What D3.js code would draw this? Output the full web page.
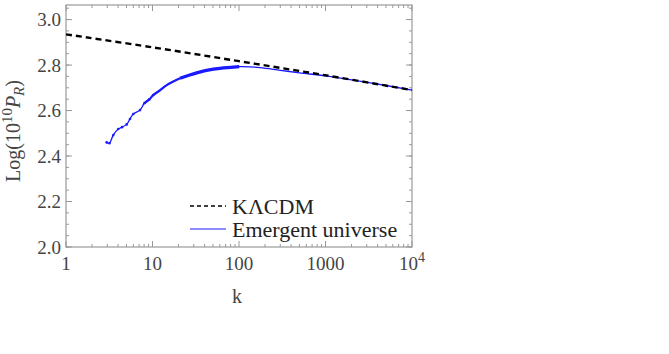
<!DOCTYPE html>
<html>
<head>
<meta charset="utf-8">
<script src="https://cdn.jsdelivr.net/npm/d3@7"></script>
<style>
  body { margin: 0; background: #fff; }
  svg text { font-family: "Liberation Serif", "DejaVu Serif", "Times New Roman", serif; }
</style>
</head>
<body>
<div id="chart"></div>
<script>
// KΛCDM reference spectrum (dashed)
var lcdmK = [1, 10, 100, 1000, 10000];
var lcdmP = [2.935, 2.878, 2.817, 2.755, 2.690];

// Emergent universe spectrum (blue)
var emK = [2.95, 3.17, 3.52, 4.02, 4.44, 5.03, 5.49, 6.0, 7.17, 8.04, 9.18, 10.2, 12.0, 14.6, 20.8, 32.4, 50.5, 100.7, 175, 300, 500, 1000, 2000, 5000, 10000];
var emP = [2.460, 2.456, 2.492, 2.519, 2.527, 2.539, 2.563, 2.585, 2.602, 2.632, 2.649, 2.668, 2.687, 2.712, 2.742, 2.766, 2.782, 2.793, 2.789, 2.777, 2.766, 2.752, 2.735, 2.710, 2.690];

var xTicks = [1, 10, 100, 1000, 10000];
var yTicks = [2.0, 2.2, 2.4, 2.6, 2.8, 3.0];

var margin = {top: 5, right: 257, bottom: 107, left: 66},
    width = 669 - margin.left - margin.right,
    height = 354 - margin.top - margin.bottom;

var svg = d3.select("#chart")
  .append("svg")
    .attr("width", 669)
    .attr("height", 354)
  .append("g")
    .attr("transform", "translate(" + margin.left + "," + margin.top + ")");

var x = d3.scaleLog().domain([1, 10000]).range([0, width]);
var y = d3.scaleLinear().domain([2.0, 3.064]).range([height, 0]);

var frameColor = "#999";
var labelColor = "#444";

// minor / major ticks
var minorX = [];
for (var e = 0; e < 4; e++) {
  for (var m = 2; m <= 9; m++) minorX.push(m * Math.pow(10, e));
}
var minorY = d3.range(2.0, 3.06, 0.05);

function tickLines(vals, len, isX) {
  vals.forEach(function(v) {
    if (isX) {
      svg.append("line").attr("x1", x(v)).attr("x2", x(v)).attr("y1", height).attr("y2", height - len)
        .attr("stroke", frameColor).attr("stroke-width", 1);
      svg.append("line").attr("x1", x(v)).attr("x2", x(v)).attr("y1", 0).attr("y2", len)
        .attr("stroke", frameColor).attr("stroke-width", 1);
    } else {
      svg.append("line").attr("y1", y(v)).attr("y2", y(v)).attr("x1", 0).attr("x2", len)
        .attr("stroke", frameColor).attr("stroke-width", 1);
      svg.append("line").attr("y1", y(v)).attr("y2", y(v)).attr("x1", width).attr("x2", width - len)
        .attr("stroke", frameColor).attr("stroke-width", 1);
    }
  });
}
tickLines(minorX, 3, true);
tickLines(xTicks, 6, true);
tickLines(minorY, 3, false);
tickLines(yTicks, 6, false);

// frame
svg.append("rect")
  .attr("width", width).attr("height", height)
  .attr("fill", "none").attr("stroke", frameColor).attr("stroke-width", 1.2);

// tick labels
svg.selectAll("ylab").data(yTicks).enter().append("text")
  .attr("x", -5).attr("y", function(d) { return y(d); })
  .attr("dy", "0.35em")
  .attr("text-anchor", "end")
  .attr("font-size", 19).attr("fill", labelColor)
  .text(function(d) { return d.toFixed(1); });

svg.selectAll("xlab").data(xTicks).enter().append("text")
  .attr("x", function(d) { return x(d); }).attr("y", height + 23)
  .attr("text-anchor", "middle")
  .attr("font-size", 19).attr("fill", labelColor)
  .each(function(d) {
    var t = d3.select(this);
    if (d === 10000) {
      t.append("tspan").text("10");
      t.append("tspan").attr("dy", -8).attr("font-size", 14).text("4");
    } else {
      t.text(d);
    }
  });

// axis titles
svg.append("text")
  .attr("x", x(100) - 2).attr("y", height + 56)
  .attr("text-anchor", "middle").attr("font-size", 20).attr("fill", labelColor)
  .text("k");

var yt = svg.append("text")
  .attr("transform", "translate(" + (-46) + "," + (131 - margin.top) + ") rotate(-90)")
  .attr("text-anchor", "middle").attr("font-size", 20).attr("fill", labelColor);
yt.append("tspan").text("Log(10");
yt.append("tspan").attr("dy", -8).attr("font-size", 15).text("10");
yt.append("tspan").attr("dy", 8).attr("font-style", "italic").text("P");
yt.append("tspan").attr("dy", 4).attr("font-size", 15).attr("font-style", "italic").text("R");
yt.append("tspan").attr("dy", -4).text(")");

// lines
var line = d3.line()
  .x(function(d) { return x(d[0]); })
  .y(function(d) { return y(d[1]); })
  .curve(d3.curveCatmullRom);

var lcdm = lcdmK.map(function(k, i) { return [k, lcdmP[i]]; });
var em = emK.map(function(k, i) { return [k, emP[i]]; });

svg.append("path").datum(em)
  .attr("d", line).attr("fill", "none")
  .attr("stroke", "#1a1aff").attr("stroke-width", 1.3);

// denser sampling region drawn thicker
svg.append("path").datum(em.filter(function(d) { return d[0] >= 8 && d[0] <= 21; }))
  .attr("d", line).attr("fill", "none")
  .attr("stroke", "#1a1aff").attr("stroke-width", 2.2);
svg.append("path").datum(em.filter(function(d) { return d[0] >= 20 && d[0] <= 101; }))
  .attr("d", line).attr("fill", "none")
  .attr("stroke", "#1a1aff").attr("stroke-width", 3.4);

svg.selectAll("emdot").data(em.filter(function(d) { return d[0] < 12; })).enter().append("circle")
  .attr("cx", function(d) { return x(d[0]); })
  .attr("cy", function(d) { return y(d[1]); })
  .attr("r", 1.3).attr("fill", "#1a1aff");

svg.append("path").datum(lcdm)
  .attr("d", line).attr("fill", "none")
  .attr("stroke", "#000").attr("stroke-width", 2.4)
  .attr("stroke-dasharray", "6,4");

// legend
var lg = svg.append("g").attr("transform", "translate(" + (190 - margin.left) + "," + (206 - margin.top) + ")");
lg.append("line").attr("x1", 0).attr("x2", 36).attr("y1", 0).attr("y2", 0)
  .attr("stroke", "#000").attr("stroke-width", 1.3).attr("stroke-dasharray", "4,3");
lg.append("text").attr("x", 42).attr("y", 0).attr("dy", "0.35em")
  .attr("font-size", 22).attr("fill", "#222").text("KΛCDM");
lg.append("line").attr("x1", 0).attr("x2", 36).attr("y1", 23).attr("y2", 23)
  .attr("stroke", "#1a1aff").attr("stroke-width", 1.2);
lg.append("text").attr("x", 42).attr("y", 23).attr("dy", "0.35em")
  .attr("font-size", 22).attr("fill", "#222").text("Emergent universe");
</script>
</body>
</html>
